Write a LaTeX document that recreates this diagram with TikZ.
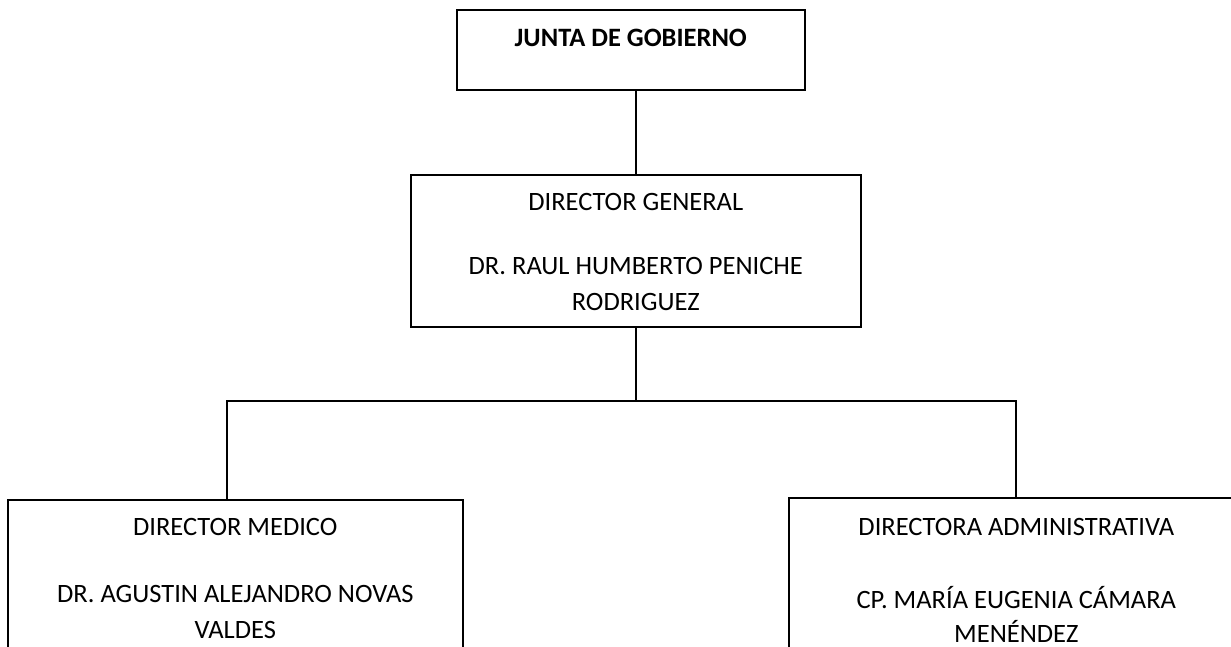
\documentclass[tikz,border=0pt]{standalone}
\usepackage{fontspec}
\setmainfont{Carlito}
\usetikzlibrary{positioning}

\newcommand{\cargotext}[3]{\parbox[t][#1][t]{#2}{\centering\vspace*{19pt}#3}}

\begin{document}
\begin{tikzpicture}[x=1pt, y=-1pt,
    puesto/.style={draw, line width=1.6pt, inner sep=0pt, anchor=north west,
        font=\fontsize{26.5}{36}\selectfont},
    linea/.style={line width=1.8pt}
    ]
\useasboundingbox (0,0) rectangle (1231,647);
\clip (0,0) rectangle (1231,647);

\node[puesto] (junta) at (456,9) {\cargotext{80pt}{348pt}{\textbf{JUNTA DE GOBIERNO}}};
\node[puesto] (dg) at (410,174) {\cargotext{152pt}{450pt}{DIRECTOR GENERAL\\[28pt]
    DR. RAUL HUMBERTO PENICHE\\ RODRIGUEZ}};

\node[puesto] (medico) at (7,499) {\cargotext{220pt}{455pt}{DIRECTOR MEDICO\\[30pt]
    DR. AGUSTIN ALEJANDRO NOVAS\\[1pt] VALDES}};
\node[puesto] (admin) at (788,497) {\cargotext{220pt}{455pt}{\vspace*{1pt}DIRECTORA ADMINISTRATIVA\\[37pt]
    CP. MARÍA EUGENIA CÁMARA\\[-2pt] MENÉNDEZ}};

\coordinate (bus) at (635,401);

\draw[linea] (dg.north |- junta.south) -- (dg.north);
\draw[linea] (dg.south) -- (dg.south |- bus);
\draw[linea] ([xshift=-8pt]medico.north) |- (bus) -| (admin.north);

\end{tikzpicture}
\end{document}
